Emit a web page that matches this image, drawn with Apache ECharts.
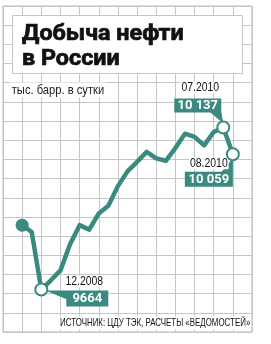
<!DOCTYPE html>
<html><head><meta charset="utf-8">
<script src="https://cdn.jsdelivr.net/npm/echarts@6/dist/echarts.min.js"></script>
<style>html,body{margin:0;padding:0;background:#fff}#c{width:271px;height:344px}</style>
</head><body><div id="c"></div>
<script>
const titleLines = ['Добыча нефти', 'в России'];
const unitLabel = 'тыс. барр. в сутки';
const sourceText = 'ИСТОЧНИК: ЦДУ ТЭК, РАСЧЕТЫ «ВЕДОМОСТЕЙ»';
const months = ['10.2008','11.2008','12.2008','01.2009','02.2009','03.2009','04.2009','05.2009','06.2009','07.2009','08.2009','09.2009','10.2009','11.2009','12.2009','01.2010','02.2010','03.2010','04.2010','05.2010','06.2010','07.2010','08.2010'];
const production = [9852,9832,9664,9691,9720,9796,9852,9839,9886,9909,9966,10009,10037,10066,10047,10040,10077,10119,10110,10085,10124,10137,10059];
const callouts = [
  {idx: 2, date: '12.2008', text: '9664'},
  {idx: 21, date: '07.2010', text: '10 137'},
  {idx: 22, date: '08.2010', text: '10 059'}
];

const TEAL = '#3b8a82';
const GRIDC = '#c6c6c6';
const chart = echarts.init(document.getElementById('c'), null, {renderer: 'canvas'});

const seriesData = production.map((v, i) => {
  const item = {value: [i, v], symbol: 'none'};
  if (i === 0) { item.symbol = 'circle'; item.symbolSize = 13; item.itemStyle = {color: TEAL, borderWidth: 0}; }
  if (callouts.some(c => c.idx === i)) { item.symbol = 'circle'; item.symbolSize = 12; item.itemStyle = {color: '#fff', borderColor: TEAL, borderWidth: 2}; }
  return item;
});

chart.setOption({
  animation: false,
  grid: {left: 3, top: 6, width: 249, height: 326, show: true, borderColor: '#b8b8b8', borderWidth: 1, backgroundColor: '#fff'},
  xAxis: {type: 'value', min: -2, max: 24, interval: 2, axisLine: {show: false}, axisTick: {show: false}, axisLabel: {show: false},
    splitLine: {show: true, lineStyle: {color: GRIDC, width: 1}}},
  yAxis: [
    {type: 'value', min: 9540, max: 10492, show: true, axisLine: {show: false}, axisTick: {show: false}, axisLabel: {show: false}, splitLine: {show: false}},
    {type: 'value', min: 0, max: 17, interval: 1, axisLine: {show: false}, axisTick: {show: false}, axisLabel: {show: false},
      splitLine: {show: true, lineStyle: {color: GRIDC, width: 1}}}
  ],
  series: [{
    type: 'line', yAxisIndex: 0, data: seriesData, z: 100,
    lineStyle: {color: TEAL, width: 4.5, join: 'round'},
    itemStyle: {color: TEAL},
    showAllSymbol: true
  }]
});

const px = (i) => chart.convertToPixel({xAxisIndex: 0, yAxisIndex: 0}, [i, production[i]]);
const g = [];
const DATEFONT = '12px "Liberation Sans", Arial, sans-serif';
const NUMFONT = 'bold 13px Roboto, Arial, sans-serif';
// title box
g.push({type: 'rect', z: 10, shape: {x: 12.5, y: 15.5, width: 230, height: 58}, style: {fill: '#fff', stroke: '#c6c6c6', lineWidth: 1}});
g.push({type: 'text', z: 11, x: 22, y: 22, scaleX: 1.06, style: {text: titleLines.join('\n'), font: 'bold 22px Roboto, "Liberation Sans", sans-serif', fill: '#111', stroke: '#111', lineWidth: 0.7, lineHeight: 25}});
// unit label
g.push({type: 'text', z: 11, x: 10, y: 90, scaleX: 0.86, style: {text: unitLabel, font: '13px "Liberation Sans", Arial, sans-serif', fill: '#222', verticalAlign: 'middle', backgroundColor: '#fff', padding: [1, 2, 1, 2]}});
// source
g.push({type: 'text', z: 11, x: 251, y: 323, scaleX: 0.72, style: {text: sourceText, font: '11px "Liberation Sans", Arial, sans-serif', fill: '#111', align: 'right', verticalAlign: 'middle', backgroundColor: '#fff', padding: [1, 1, 1, 2]}});

function dateText(x, y, t) {
  return {type: 'text', z: 21, x: x, y: y, scaleX: 0.87, style: {text: t, font: DATEFONT, fill: '#111', align: 'center', verticalAlign: 'middle', backgroundColor: '#fff', padding: [0, 1]}};
}
// callout 12.2008
(function(){
  const P = px(2);
  const bx = P[0] + 25, by = P[1] + 1, bw = 42, bh = 16;
  g.push({type: 'polygon', z: 20, shape: {points: [[P[0] + 4, P[1] + 1], [bx + 1, by], [bx + 1, by + 9]]}, style: {fill: TEAL}});
  g.push({type: 'rect', z: 20, shape: {x: bx, y: by, width: bw, height: bh}, style: {fill: TEAL}});
  g.push({type: 'text', z: 21, x: bx + bw / 2, y: by + bh / 2 + 0.5, style: {text: callouts[0].text, font: NUMFONT, fill: '#fff', align: 'center', verticalAlign: 'middle'}});
  g.push(dateText(bx + 18, P[1] - 8, callouts[0].date));
})();
// callout 07.2010
(function(){
  const P = px(21);
  const bw = 47, bh = 14, bx = P[0] - 2 - bw, by = P[1] - 29;
  g.push({type: 'polygon', z: 20, shape: {points: [[bx + bw - 12, by + bh - 1], [bx + bw, by + bh - 1], [P[0], P[1] - 4]]}, style: {fill: TEAL}});
  g.push({type: 'rect', z: 20, shape: {x: bx, y: by, width: bw, height: bh}, style: {fill: TEAL}});
  g.push({type: 'text', z: 21, x: bx + bw / 2, y: by + bh / 2 + 0.5, style: {text: callouts[1].text, font: NUMFONT, fill: '#fff', align: 'center', verticalAlign: 'middle'}});
  g.push(dateText(P[0] - 23, P[1] - 40, callouts[1].date));
})();
// callout 08.2010
(function(){
  const P = px(22);
  const bw = 48, bh = 15, bx = P[0] - bw, by = P[1] + 17.5;
  g.push({type: 'polygon', z: 20, shape: {points: [[bx + bw - 12, by + 1], [bx + bw, by + 1], [P[0], P[1] + 4]]}, style: {fill: TEAL}});
  g.push({type: 'rect', z: 20, shape: {x: bx, y: by, width: bw, height: bh}, style: {fill: TEAL}});
  g.push({type: 'text', z: 21, x: bx + bw / 2, y: by + bh / 2 + 0.5, style: {text: callouts[2].text, font: NUMFONT, fill: '#fff', align: 'center', verticalAlign: 'middle'}});
  g.push(dateText(P[0] - 24, P[1] + 9, callouts[2].date));
})();
chart.setOption({graphic: g});
</script></body></html>
